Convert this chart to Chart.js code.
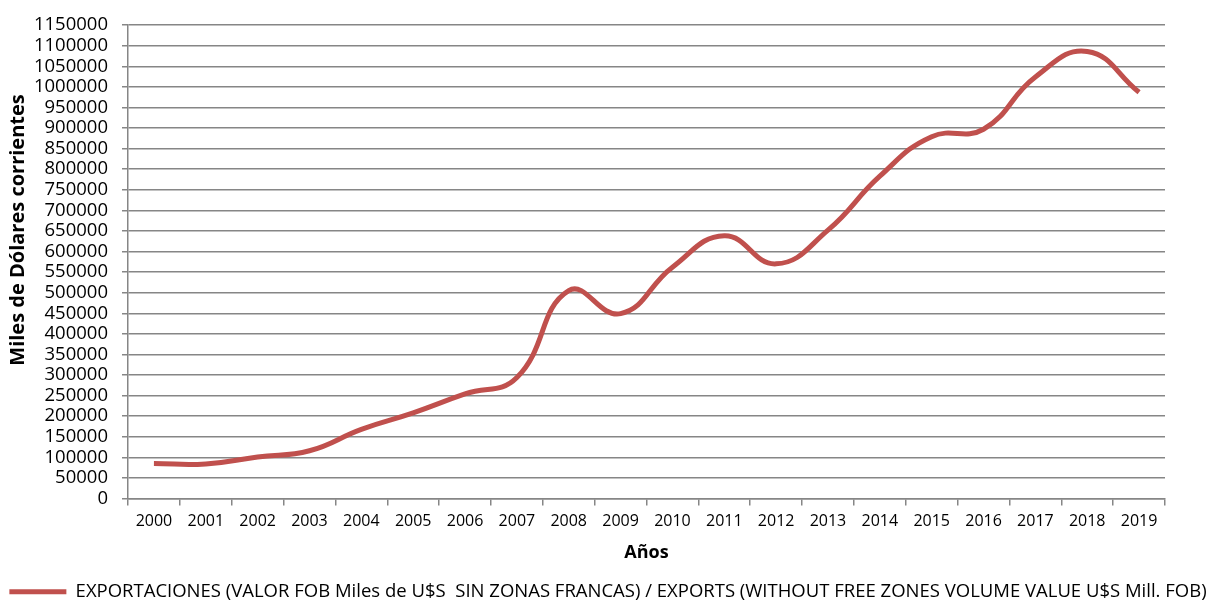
<!DOCTYPE html>
<html>
<head>
<meta charset="utf-8">
<title>Exportaciones</title>
<script src="https://cdn.jsdelivr.net/npm/chart.js"></script>
<style>
    html, body { margin: 0; padding: 0; background: #fff; }
    #wrap { width: 1216px; height: 613px; }
</style>
</head>
<body>
<div id="wrap"><canvas id="myChart" width="1216" height="613"></canvas></div>
<script>
    const years = ['2000', '2001', '2002', '2003', '2004', '2005', '2006', '2007', '2008', '2009',
                   '2010', '2011', '2012', '2013', '2014', '2015', '2016', '2017', '2018', '2019'];
    const exportValues = [85000, 84000, 101000, 116000, 168000, 208000, 254000, 294000, 505000, 449000,
                          562000, 638000, 570000, 652000, 783000, 879000, 897000, 1024000, 1086000, 987000];
    const seriesLabel = 'EXPORTACIONES (VALOR FOB Miles de U$S  SIN ZONAS FRANCAS) / EXPORTS (WITHOUT FREE ZONES VOLUME VALUE U$S Mill. FOB)';
    const yTitle = 'Miles de Dólares corrientes';
    const xTitle = 'Años';

    const red = '#C0504D';
    const grey = '#868686';
    const font = '"Open Sans", "Liberation Sans", sans-serif';

    // the y title sits higher than the middle of the plot, like in the original sheet
    const yTitlePlugin = {
        id: 'yTitle',
        afterDraw(chart) {
            const c = chart.ctx;
            c.save();
            c.translate(18, 230);
            c.rotate(-Math.PI / 2);
            c.font = 'bold 20px ' + font;
            c.fillStyle = '#000';
            c.textAlign = 'center';
            c.textBaseline = 'middle';
            c.fillText(yTitle, 0, 0);
            c.restore();
        },
    };

    const ctx = document.getElementById('myChart').getContext('2d');
    new Chart(ctx, {
        type: 'line',
        data: {
            labels: years,
            datasets: [{
                label: seriesLabel,
                data: exportValues,
                borderColor: red,
                backgroundColor: red,
                borderWidth: 5,
                pointRadius: 0,
                tension: 0.45,
                fill: false,
            }],
        },
        plugins: [yTitlePlugin],
        options: {
            responsive: false,
            animation: false,
            layout: { padding: { left: 0, right: 0, top: 23, bottom: 2 } },
            plugins: {
                tooltip: { enabled: false },
                legend: {
                    position: 'bottom',
                    labels: {
                        color: '#000',
                        font: { family: font, size: 18.5 },
                        boxWidth: 57,
                        boxHeight: 5,
                        padding: 8,
                        generateLabels: (chart) => chart.data.datasets.map((ds, i) => ({
                            text: ds.label,
                            fillStyle: red,
                            strokeStyle: red,
                            lineWidth: 0,
                            datasetIndex: i,
                            hidden: false,
                        })),
                    },
                },
            },
            scales: {
                x: {
                    offset: true,
                    afterFit: (scale) => { scale.height = 76; },
                    grid: {
                        offset: true,
                        drawOnChartArea: false,
                        drawTicks: true,
                        tickLength: 7,
                        color: grey,
                        lineWidth: 1.5,
                    },
                    border: { color: grey, width: 1.5 },
                    ticks: { color: '#000', font: { family: font, size: 16 }, maxRotation: 0, padding: 6 },
                    title: {
                        display: true,
                        text: xTitle,
                        color: '#000',
                        font: { family: font, size: 18, weight: 'bold' },
                        padding: { top: 4, bottom: 11 },
                    },
                },
                y: {
                    min: 0,
                    max: 1150000,
                    afterFit: (scale) => { scale.width = 128; },
                    grid: {
                        color: grey,
                        lineWidth: 1.5,
                        drawTicks: true,
                        tickLength: 6,
                    },
                    border: { color: grey, width: 1.5 },
                    ticks: {
                        stepSize: 50000,
                        color: '#000',
                        font: { family: font, size: 18.5 },
                        padding: 14,
                        autoSkip: false,
                        callback: (v) => String(v),
                    },
                },
                // empty right-hand axis that only reserves the white margin
                yRight: {
                    position: 'right',
                    display: true,
                    afterFit: (scale) => { scale.width = 51; },
                    grid: { display: false },
                    border: { display: false },
                    ticks: { display: false },
                },
            },
        },
    });
</script>
</body>
</html>
